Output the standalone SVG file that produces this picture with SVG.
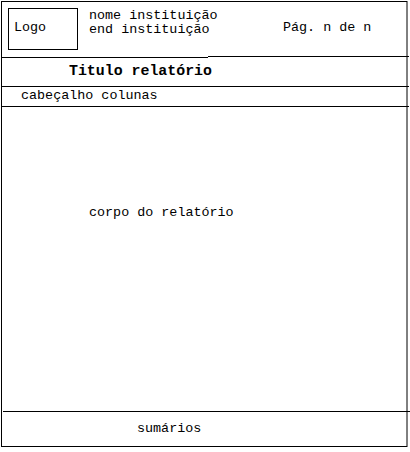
<svg xmlns="http://www.w3.org/2000/svg" width="410" height="452" viewBox="0 0 410 452">
<style>
.ln{stroke:#000;stroke-width:1;fill:none}
.t{font-family:"Liberation Mono","DejaVu Sans Mono",monospace;font-size:13.4px;fill:#000}
.b{font-family:"Liberation Mono","DejaVu Sans Mono",monospace;font-size:14.9px;font-weight:bold;fill:#000}
</style>
<rect width="410" height="452" fill="#fff"/>
<g id="page">
<rect class="ln" x="1.5" y="1.5" width="405.5" height="445"/>
</g>
<g id="connectors">
<path class="ln" d="M1.5 57.5H208M208 56.5H409"/>
<path class="ln" d="M1.5 86.5H409"/>
<path class="ln" d="M1.5 106.5H409"/>
<path class="ln" d="M3 411.5H410"/>
</g>
<g id="logo">
<rect class="ln" x="8.5" y="8.5" width="69" height="41"/>
<text class="t" x="14" y="31">Logo</text>
</g>
<g id="instituicao">
<text class="t" x="89" y="19">nome instituição</text>
<text class="t" x="89" y="33">end instituição</text>
</g>
<g id="pagina">
<text class="t" x="283" y="31">Pág. n de n</text>
</g>
<g id="titulo">
<text class="b" x="69" y="75">Titulo relatório</text>
</g>
<g id="cabecalho">
<text class="t" x="21" y="99">cabeçalho colunas</text>
</g>
<g id="corpo">
<text class="t" x="89" y="216">corpo do relatório</text>
</g>
<g id="sumarios">
<text class="t" x="137" y="432">sumários</text>
</g>
</svg>
